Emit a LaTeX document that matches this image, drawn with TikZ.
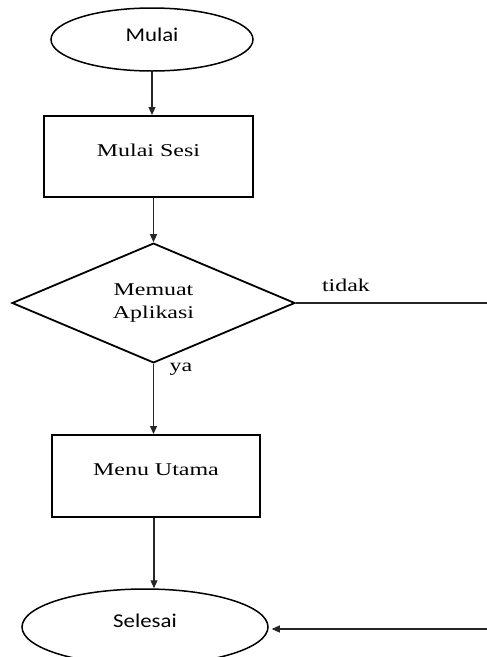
\documentclass[tikz,border=0pt]{standalone}
\usepackage{fontspec}
\setmainfont{Liberation Serif}[FakeStretch=1.33]
\newfontfamily\calib{Carlito}[FakeStretch=1.17]
\usetikzlibrary{shapes.geometric,arrows.meta}
\begin{document}
\begin{tikzpicture}[x=1pt,y=-1pt,
  conn/.style={line width=1.1pt,draw=black!85},
  arr/.style={conn,-{Triangle[length=8pt,width=7pt]}},
  terminal/.style={ellipse,draw,line width=1.5pt,inner sep=0pt,font=\calib\fontsize{19.5}{22}\selectfont},
  procbox/.style={rectangle,draw,line width=2pt,inner sep=0pt,font=\fontsize{18}{23}\selectfont},
  decision/.style={diamond,draw,line width=1.8pt,inner sep=0pt,align=center,font=\fontsize{18}{23}\selectfont},
  lbl/.style={inner sep=0pt,font=\fontsize{18}{23}\selectfont}]
\useasboundingbox (0,0) rectangle (487,657);
\clip (0,0) rectangle (487,657);
\node[terminal,minimum width=202pt,minimum height=63pt,text height=10pt,text depth=6pt] (mulai) at (152,39.5) {Mulai};
\node[procbox,minimum width=209pt,minimum height=81pt,text height=12pt,text depth=12pt] (sesi) at (148.5,156.5) {Mulai Sesi};
\node[decision,minimum width=283pt,minimum height=116pt] (dec) at (153.5,303) {Memuat\\Aplikasi};
\node[procbox,minimum width=208pt,minimum height=82pt,text height=12pt,text depth=13pt] (menu) at (156,476) {Menu Utama};
\node[terminal,minimum width=246pt,minimum height=76pt,text height=13pt,text depth=12pt] (selesai) at (145,627) {Selesai};
\node[lbl] (tidak) at (346,285) {tidak};
\node[lbl] (ya) at (181,369) {ya};
\coordinate (r1) at (487,303);
\coordinate (r2) at (487,629);
\draw[arr] (mulai.south) -- (mulai.south |- sesi.north);
\draw[arr] (sesi.south -| dec.north) -- (dec.north);
\draw[conn] (dec.east) -- (r1);
\draw[arr] (dec.south) -- (dec.south |- menu.north);
\draw[arr] (menu.south -| 154,0) -- (154,0 |- selesai.north);
\draw[arr,shorten >=3pt] (r2) -- (selesai.east |- r2);
\end{tikzpicture}
\end{document}
